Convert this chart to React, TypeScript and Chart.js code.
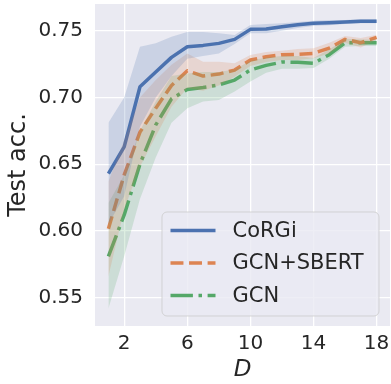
import React, { useEffect, useRef } from "react";
import { Chart, registerables } from "chart.js";

Chart.register(...registerables);

const depths = [1, 2, 3, 4, 5, 6, 7, 8, 9, 10, 11, 12, 13, 14, 15, 16, 17, 18];
const xTickValues = [2, 6, 10, 14, 18];
const yTickValues = [0.55, 0.6, 0.65, 0.7, 0.75];
const seriesNames = ["CoRGi", "GCN+SBERT", "GCN"];

const corgiMean = [0.643, 0.663, 0.708, 0.719, 0.73, 0.738, 0.739, 0.7405, 0.7435, 0.751, 0.7513, 0.753, 0.7545, 0.7555, 0.756, 0.7565, 0.757, 0.757];
const corgiUpper = [0.681, 0.7, 0.738, 0.7406, 0.7455, 0.749, 0.749, 0.748, 0.7468, 0.7543, 0.755, 0.7555, 0.7565, 0.7575, 0.758, 0.758, 0.7585, 0.7585];
const corgiLower = [0.605, 0.626, 0.678, 0.7, 0.716, 0.729, 0.731, 0.733, 0.74, 0.748, 0.748, 0.75, 0.752, 0.7535, 0.754, 0.755, 0.7555, 0.7555];

const sbertMean = [0.6016, 0.642, 0.674, 0.692, 0.709, 0.72, 0.716, 0.7175, 0.7205, 0.728, 0.7305, 0.732, 0.7323, 0.733, 0.737, 0.7435, 0.741, 0.745];
const sbertUpper = [0.637, 0.668, 0.7, 0.713, 0.7245, 0.733, 0.7268, 0.7268, 0.7256, 0.7318, 0.734, 0.735, 0.7362, 0.7368, 0.741, 0.746, 0.7445, 0.747];
const sbertLower = [0.566, 0.616, 0.648, 0.671, 0.693, 0.707, 0.705, 0.709, 0.7155, 0.7235, 0.7265, 0.728, 0.728, 0.7293, 0.733, 0.741, 0.7375, 0.743];

const gcnMean = [0.581, 0.612, 0.65, 0.6794, 0.699, 0.706, 0.7075, 0.7094, 0.713, 0.7206, 0.724, 0.7265, 0.7263, 0.7256, 0.732, 0.741, 0.741, 0.741];
const gcnUpper = [0.621, 0.642, 0.675, 0.697, 0.716, 0.718, 0.719, 0.719, 0.721, 0.7275, 0.73, 0.731, 0.731, 0.7295, 0.736, 0.744, 0.7435, 0.7435];
const gcnLower = [0.542, 0.581, 0.624, 0.655, 0.681, 0.692, 0.697, 0.698, 0.7044, 0.712, 0.7185, 0.7215, 0.7215, 0.722, 0.729, 0.738, 0.7385, 0.7385];

const BLUE = "#4c72b0";
const ORANGE = "#dd8452";
const GREEN = "#55a868";
const TEXT = "#262626";
const LW = 3.5;

const pts = (ys: number[]) => ys.map((y, i) => ({ x: depths[i], y }));

function band(upper: number[], lower: number[], fillColor: string) {
  return [
    {
      label: "",
      data: pts(upper),
      borderWidth: 0,
      pointRadius: 0,
      backgroundColor: fillColor,
      fill: "+1",
      isBand: true,
    },
    {
      label: "",
      data: pts(lower),
      borderWidth: 0,
      pointRadius: 0,
      fill: false,
      isBand: true,
    },
  ];
}

function line(name: string, ys: number[], color: string, dash: number[]) {
  return {
    label: name,
    data: pts(ys),
    borderColor: color,
    borderWidth: LW,
    borderDash: dash,
    pointRadius: 0,
    fill: false,
    borderJoinStyle: "round",
    isMain: true,
  };
}

const legendPlugin = {
  id: "customLegend",
  afterDraw(chart: any) {
    const ctx = chart.ctx;
    const area = chart.chartArea;
    const mains = chart.data.datasets.filter((d: any) => d.isMain);
    const w = 217;
    const h = 104;
    const x0 = area.right - 11 - w;
    const y0 = area.bottom - 10 - h;
    ctx.save();
    ctx.beginPath();
    if ((ctx as any).roundRect) (ctx as any).roundRect(x0, y0, w, h, 5);
    else ctx.rect(x0, y0, w, h);
    ctx.fillStyle = "rgba(234,234,242,0.8)";
    ctx.fill();
    ctx.strokeStyle = "rgba(204,204,204,0.8)";
    ctx.lineWidth = 1;
    ctx.stroke();
    ctx.font = "21px 'DejaVu Sans'";
    ctx.textBaseline = "middle";
    ctx.textAlign = "left";
    mains.forEach((d: any, i: number) => {
      const yy = y0 + 18.5 + i * 32.5;
      ctx.beginPath();
      ctx.setLineDash(d.borderDash || []);
      ctx.lineWidth = LW;
      ctx.strokeStyle = d.borderColor;
      ctx.lineCap = "butt";
      ctx.moveTo(x0 + 8.5, yy);
      ctx.lineTo(x0 + 53.5, yy);
      ctx.stroke();
      ctx.setLineDash([]);
      ctx.fillStyle = TEXT;
      ctx.fillText(d.label, x0 + 70.5, yy + 1);
    });
    ctx.restore();
  },
};

const bgPlugin = {
  id: "plotBg",
  beforeDraw(chart: any) {
    const { ctx, chartArea } = chart;
    ctx.save();
    ctx.fillStyle = "#eaeaf2";
    ctx.fillRect(chartArea.left, chartArea.top, chartArea.right - chartArea.left, chartArea.bottom - chartArea.top);
    ctx.restore();
  },
};

const noPad = (s: any) => {
  s.paddingLeft = 0;
  s.paddingRight = 0;
  s.paddingTop = 0;
  s.paddingBottom = 0;
};

export default function App() {
  const ref = useRef<HTMLCanvasElement | null>(null);
  useEffect(() => {
    if (!ref.current) return;
    const datasets: any[] = [
      ...band(corgiUpper, corgiLower, "rgba(76,114,176,0.2)"),
      ...band(sbertUpper, sbertLower, "rgba(221,132,82,0.2)"),
      ...band(gcnUpper, gcnLower, "rgba(85,168,104,0.2)"),
      line(seriesNames[0], corgiMean, BLUE, []),
      line(seriesNames[1], sbertMean, ORANGE, [12.95, 5.6]),
      line(seriesNames[2], gcnMean, GREEN, [22.4, 5.6, 3.5, 5.6]),
    ];
    const chart = new Chart(ref.current, {
      type: "line",
      data: { datasets },
      plugins: [bgPlugin, legendPlugin],
      options: {
        responsive: false,
        animation: false,
        layout: { padding: { top: 4, right: 1, left: 0, bottom: 0 } },
        plugins: {
          legend: { display: false },
          tooltip: { enabled: false },
          filler: { propagate: false },
        },
        scales: {
          x: {
            type: "linear",
            min: 0.15,
            max: 18.85,
            afterBuildTicks: (s: any) => {
              s.ticks = xTickValues.map((v) => ({ value: v }));
            },
            afterFit: (s: any) => {
              s.height = 58;
              noPad(s);
            },
            grid: { color: "#ffffff", lineWidth: 1.3, drawTicks: false },
            border: { display: false },
            ticks: {
              color: TEXT,
              font: { family: "'DejaVu Sans'", size: 20 },
              padding: 6,
              maxRotation: 0,
              autoSkip: false,
              callback: (v: any) => String(v),
            },
            title: {
              display: true,
              text: "D",
              color: TEXT,
              font: { family: "'DejaVu Sans'", size: 23, style: "italic" },
              padding: { top: 0, bottom: 0 },
            },
          },
          y: {
            type: "linear",
            min: 0.5288,
            max: 0.77,
            afterBuildTicks: (s: any) => {
              s.ticks = yTickValues.map((v) => ({ value: v }));
            },
            afterFit: (s: any) => {
              s.width = 95;
              noPad(s);
            },
            grid: { color: "#ffffff", lineWidth: 1.3, drawTicks: false },
            border: { display: false },
            ticks: {
              color: TEXT,
              font: { family: "'DejaVu Sans'", size: 20 },
              padding: 12,
              autoSkip: false,
              callback: (v: any) => Number(v).toFixed(2),
            },
            title: {
              display: true,
              text: "Test acc.",
              color: TEXT,
              font: { family: "'DejaVu Sans'", size: 24 },
              padding: { top: 4, bottom: 0 },
            },
          },
        },
      } as any,
    });
    return () => chart.destroy();
  }, []);
  return (
    <div style={{ position: "absolute", left: 0, top: 0, width: 391, height: 384, background: "#ffffff" }}>
      <canvas ref={ref} width={391} height={384} style={{ display: "block" }} />
    </div>
  );
}
